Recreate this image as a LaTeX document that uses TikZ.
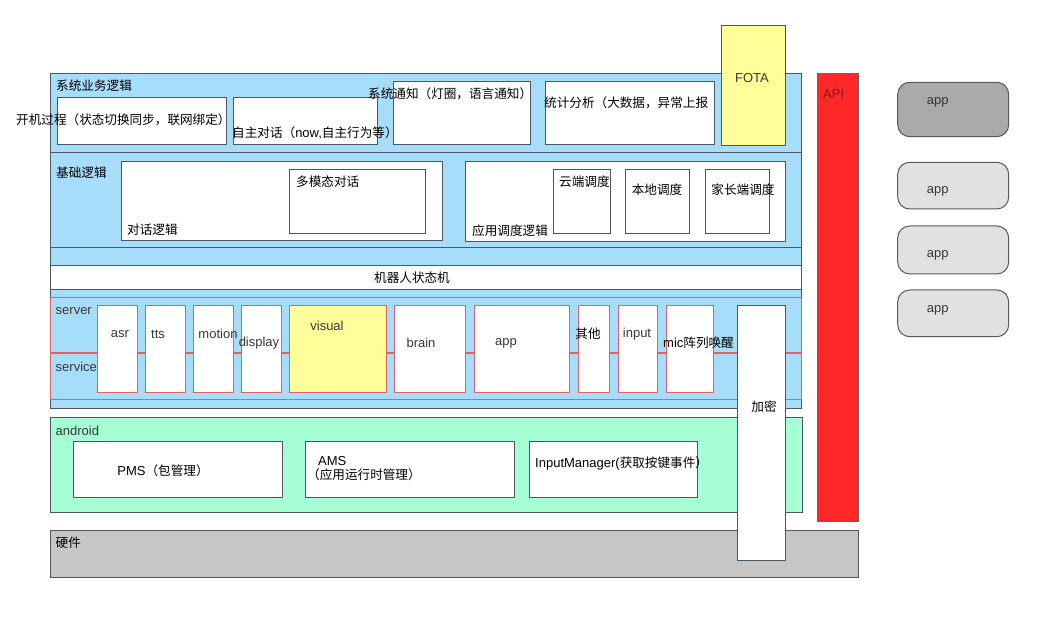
\documentclass[tikz,border=0pt]{standalone}
\usepackage{xcolor}
\usepackage{fontspec}
\setmainfont{Liberation Sans}
\newfontfamily\cjk[Scale=0.97]{Noto Sans CJK SC}
\usetikzlibrary{positioning}

\definecolor{sysblue}{RGB}{166,221,250}
\definecolor{andgreen}{RGB}{166,255,212}
\definecolor{hwgray}{RGB}{198,198,198}
\definecolor{apired}{RGB}{255,40,40}
\definecolor{apitext}{RGB}{130,20,20}
\definecolor{fotayellow}{RGB}{255,255,153}
\definecolor{edgegray}{RGB}{75,88,98}
\definecolor{svcred}{RGB}{225,95,105}
\definecolor{appdark}{RGB}{170,170,170}
\definecolor{applight}{RGB}{225,225,225}

\tikzset{
  panel/.style={draw=edgegray, line width=1pt, rectangle, anchor=north west, inner sep=0pt, outer sep=0pt},
  box/.style={panel, fill=white},
  svc/.style={draw=svcred, line width=1pt, fill=white, rectangle, anchor=north west, inner sep=0pt, outer sep=0pt, minimum height=87pt},
  appbox/.style={draw=black!65, line width=1pt, rounded corners=12pt, rectangle, anchor=north west, inner sep=0pt, outer sep=0pt, minimum width=111pt},
  cn/.style={font=\fontsize{13}{15}\selectfont\cjk, inner sep=0pt, text=black},
  en/.style={font=\fontsize{13}{15}\selectfont, inner sep=0pt, text=black!78},
}

\begin{document}
\begin{tikzpicture}[x=1pt, y=-1pt]
    \useasboundingbox (0,0) rectangle (1049,617);

    % system + basic logic layers
    \node [panel, fill=sysblue, minimum width=751pt, minimum height=334pt] (sys) at (50,74) {};
    \node [panel, minimum width=751pt, minimum height=95pt] (basic) at (50,153) {};

    \node [box, minimum width=168.5pt, minimum height=47pt] (boot) at (57.5,98) {};
    \node [box, minimum width=144.4pt, minimum height=47pt] (self) at (233.3,98) {};
    \node [box, minimum width=136.5pt, minimum height=63.3pt] (notify) at (393.5,81.7) {};
    \node [box, minimum width=168.6pt, minimum height=63.3pt] (stat) at (545.7,81.7) {};
    \node [panel, fill=fotayellow, minimum width=63.3pt, minimum height=120.3pt] (fota) at (721.7,25.7) {};

    \node [cn, anchor=west] (syslab) at (56,86) {系统业务逻辑};
    \node [cn, anchor=west] (bootlab) at (16,119.5) {开机过程（状态切换同步，联网绑定）};
    \node [cn, anchor=west] (selflab) at (232,133.3) {自主对话（{\fontspec{Liberation Sans}\fontsize{13}{15}\selectfont now,}自主行为等）};
    \node [cn, anchor=west] (notifylab) at (368,93.5) {系统通知（灯圈，语言通知）};
    \node [cn, anchor=west] (statlab) at (544,103) {统计分析（大数据，异常上报};
    \node [en] (fotalab) at (752,78) {FOTA};

    \node [box, minimum width=320.3pt, minimum height=79pt] (dialog) at (121.7,161.7) {};
    \node [box, minimum width=136.4pt, minimum height=64pt] (multi) at (289.3,169.3) {};
    \node [box, minimum width=319.3pt, minimum height=80pt] (sched) at (465.7,161.7) {};
    \node [box, minimum width=57.4pt, minimum height=64pt] (cloud) at (553.3,169.3) {};
    \node [box, minimum width=63.6pt, minimum height=64pt] (local) at (625.7,169.3) {};
    \node [box, minimum width=63.6pt, minimum height=64pt] (parent) at (705.7,169.3) {};

    \node [cn, anchor=west] (basiclab) at (56,173) {基础逻辑};
    \node [cn, anchor=west] (dialoglab) at (127,230) {对话逻辑};
    \node [cn, anchor=west] (multilab) at (296,182) {多模态对话};
    \node [cn, anchor=west] (schedlab) at (472,230.5) {应用调度逻辑};
    \node [cn, anchor=west] (cloudlab) at (559,182) {云端调度};
    \node [cn] (locallab) at (657,190) {本地调度};
    \node [cn] (parentlab) at (743,190) {家长端调度};

    % state machine bar
    \node [box, minimum width=751pt, minimum height=23.6pt] (fsm) at (50,265.7) {};
    \node [cn] (fsmlab) at (412,277.7) {机器人状态机};

    % server / service
    \node [draw=svcred, line width=1pt, rectangle, anchor=north west, inner sep=0pt, outer sep=0pt,
           minimum width=751.7pt, minimum height=102pt] (frame) at (50,297.3) {};
    \coordinate (midl) at (50,353);
    \coordinate (midr) at (801.7,353);
    \draw [svcred, line width=1.5pt] (midl) -- (midr);

    \node [svc, minimum width=40pt] (asr) at (97.3,305.7) {};
    \node [svc, minimum width=39.6pt, right=8.4pt of asr] (tts) {};
    \node [svc, minimum width=39.6pt, right=8.4pt of tts] (motion) {};
    \node [svc, minimum width=39.6pt, right=8.4pt of motion] (display) {};
    \node [svc, fill=fotayellow, minimum width=96.3pt, right=8.4pt of display] (visual) {};
    \node [svc, minimum width=71.6pt, right=8pt of visual] (brain) {};
    \node [svc, minimum width=95.6pt, right=8.4pt of brain] (app) {};
    \node [svc, minimum width=31.6pt, right=8.4pt of app] (other) {};
    \node [svc, minimum width=39.6pt, right=8.4pt of other] (input) {};
    \node [svc, minimum width=47.6pt, right=8.4pt of input] (mic) {};

    \node [en, anchor=west] (serverlab) at (55.5,311) {server};
    \node [en, anchor=west] (servicelab) at (55.5,366.5) {service};
    \node [en] (asrlab) at (120,334) {asr};
    \node [en] (ttslab) at (158,334) {tts};
    \node [en] (motionlab) at (218,334) {motion};
    \node [en] (displaylab) at (259,343) {display};
    \node [en] (visuallab) at (327,326) {visual};
    \node [en] (brainlab) at (421,343) {brain};
    \node [en] (applab) at (506,343) {app};
    \node [cn] (otherlab) at (588,334) {其他};
    \node [en] (inputlab) at (637,334) {input};
    \node [cn] (miclab) at (698.5,343) {{\fontspec{Liberation Sans}\fontsize{13}{15}\selectfont mic}阵列唤醒};

    % android
    \node [panel, fill=andgreen, minimum width=752pt, minimum height=95pt] (android) at (50,417.5) {};
    \node [box, minimum width=209pt, minimum height=55.6pt] (pms) at (73.3,441.7) {};
    \node [box, minimum width=209pt, minimum height=55.6pt] (ams) at (305.3,441.7) {};
    \node [box, minimum width=168pt, minimum height=55.6pt] (inmgr) at (529.3,441.7) {};

    \node [en, anchor=west] (androidlab) at (55.5,430.7) {android};
    \node [cn] (pmslab) at (163,470.7) {{\fontspec{Liberation Sans}\fontsize{13}{15}\selectfont PMS}（包管理）};
    \node [cn, anchor=west, align=left] (amslab) at (307,468.7)
        {\hspace*{11pt}{\fontspec{Liberation Sans}\fontsize{13}{13}\selectfont AMS}\\[-1pt]（应用运行时管理）};
    \node [cn, anchor=west] (inmgrlab) at (535,463.3) {{\fontspec{Liberation Sans}\fontsize{13}{15}\selectfont InputManager(}获取按键事件）};

    % hardware
    \node [panel, fill=hwgray, minimum width=808pt, minimum height=47pt] (hw) at (50,530) {};
    \node [cn, anchor=west] (hwlab) at (55.5,543) {硬件};

    % encryption column
    \node [box, minimum width=48pt, minimum height=255pt] (crypt) at (737.5,305.7) {};
    \node [cn] (cryptlab) at (764,406.7) {加密};

    % api
    \node [panel, draw=black!60, fill=apired, minimum width=40.5pt, minimum height=447.5pt] (api) at (817.7,74) {};
    \node [en, anchor=west, text=apitext] (apilab) at (823,94) {API};

    % apps
    \node [appbox, fill=appdark, minimum height=54.4pt] (app1) at (897.7,82.3) {};
    \node [appbox, fill=applight, minimum height=46.7pt, below=25.6pt of app1] (app2) {};
    \node [appbox, fill=applight, minimum height=48pt, below=17pt of app2] (app3) {};
    \node [appbox, fill=applight, minimum height=46.7pt, below=16pt of app3] (app4) {};

    \node [en] (app1lab) at (937.7,102.7) {app};
    \node [en] (app2lab) at (937.7,191) {app};
    \node [en] (app3lab) at (937.7,255) {app};
    \node [en] (app4lab) at (937.7,310.7) {app};
\end{tikzpicture}
\end{document}
